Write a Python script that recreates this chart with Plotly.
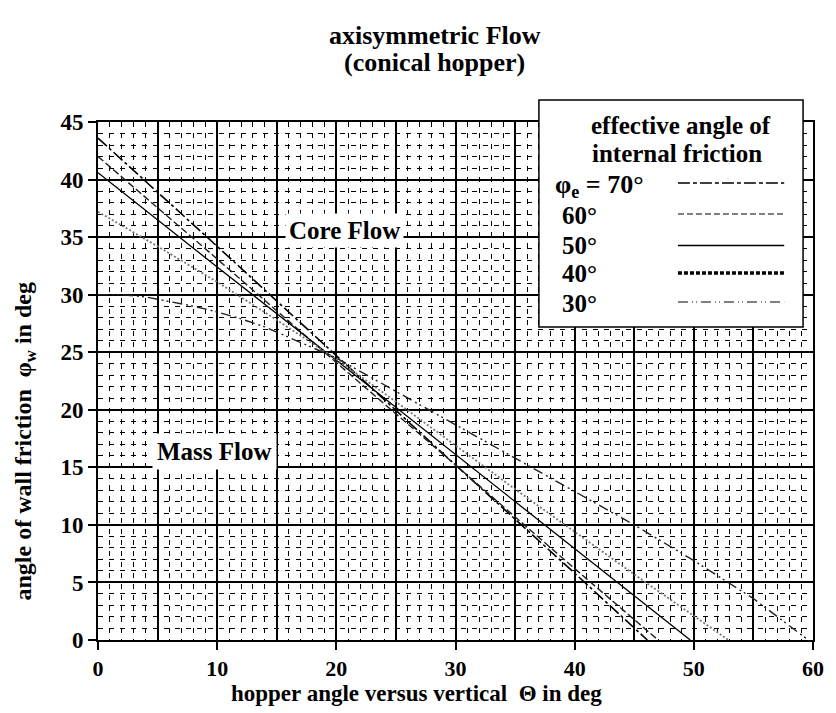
import plotly.graph_objects as go

# ---- data ----
theta_70 = [0, 10, 20, 30, 40, 46.1]
phi_70 = [43.6, 34.2, 24.7, 15.2, 5.8, 0]
theta_60 = [0, 10, 20, 30, 40, 47.0]
phi_60 = [42.0, 33.1, 24.1, 15.2, 6.2, 0]
theta_50 = [0, 10, 20, 30, 40, 49.7]
phi_50 = [40.6, 32.4, 24.3, 16.1, 7.9, 0]
theta_40 = [0, 5, 10, 15, 20, 25, 30, 35, 40, 45, 52.9]
phi_40 = [37.2, 34.2, 31.1, 27.8, 24.4, 20.7, 16.9, 13.1, 9.4, 5.7, 0]
theta_30 = [0, 2, 4, 6, 8, 10, 12, 14, 16, 18, 20, 25, 30, 35, 40, 45, 50, 55, 59.6]
phi_30 = [30, 30, 29.8, 29.4, 29, 28.5, 27.9, 27.2, 26.3, 25.4, 24.5, 21.6, 18.7,
          15.8, 12.9, 10, 6.9, 3.6, 0]

legend_labels = ["φ<sub>e</sub> = 70°", "60°", "50°", "40°", "30°"]
x_ticks = [0, 10, 20, 30, 40, 50, 60]
y_ticks = [0, 5, 10, 15, 20, 25, 30, 35, 40, 45]

FONT = "Liberation Serif"

plot_styles = [
    (theta_70, phi_70, dict(color="black", width=1.6, dash="12px,3px,3px,3px")),
    (theta_60, phi_60, dict(color="#222", width=1.4, dash="7px,3px")),
    (theta_50, phi_50, dict(color="black", width=1.3)),
    (theta_40, phi_40, dict(color="#777", width=1.8, dash="2px,2px")),
    (theta_30, phi_30, dict(color="#222", width=1.4, dash="10px,4px,2px,3px,2px,4px")),
]

fig = go.Figure()
for xs, ys, ln in plot_styles:
    fig.add_trace(go.Scatter(x=xs, y=ys, mode="lines", line=ln, showlegend=False,
                             hoverinfo="skip"))

# invisible trace on secondary x axis so the 5-step grid shows
fig.add_trace(go.Scatter(x=[0, 60], y=[0, 0], xaxis="x2", mode="lines",
                         line=dict(width=0), showlegend=False, hoverinfo="skip"))

minor = dict(dtick=1, showgrid=True, gridcolor="black", gridwidth=1.2,
             griddash="5px,6px", ticks="")

fig.update_layout(
    width=836, height=713,
    margin=dict(l=98, r=18, t=122, b=73),
    plot_bgcolor="white", paper_bgcolor="white",
    showlegend=False,
    font=dict(family=FONT, color="black"),
    xaxis=dict(range=[0, 60], tickvals=x_ticks, ticks="outside", ticklen=8,
               tickwidth=1.5, tickcolor="black",
               showgrid=True, gridcolor="black", gridwidth=1.6,
               showline=True, linecolor="black", linewidth=1.6, mirror=True,
               zeroline=False, minor=minor,
               tickfont=dict(family=FONT, size=22, color="black", weight="bold")),
    xaxis2=dict(range=[0, 60], overlaying="x", side="bottom", tick0=5, dtick=10,
                showticklabels=False, ticks="", showgrid=True,
                gridcolor="black", gridwidth=1.6, showline=False, zeroline=False),
    yaxis=dict(range=[0, 45], tickvals=y_ticks, ticks="outside", ticklen=8,
               tickwidth=1.5, tickcolor="black",
               showgrid=True, gridcolor="black", gridwidth=1.6,
               showline=True, linecolor="black", linewidth=1.6, mirror=True,
               zeroline=False, minor=minor,
               tickfont=dict(family=FONT, size=23, color="black", weight="bold")),
)


def px2p(px, py):
    return (px - 98) / 720.0, (640 - py) / 518.0


def ptext(px, py, text, size, **kw):
    x, y = px2p(px, py)
    args = dict(xref="paper", yref="paper", x=x, y=y, text=text, showarrow=False,
                xanchor="center", yanchor="middle",
                font=dict(family=FONT, size=size, color="black"))
    args.update(kw)
    fig.add_annotation(**args)


# titles
ptext(437, 35, "<b>axisymmetric Flow</b>", 26)
ptext(437, 63, "<b>(conical hopper)</b>", 26)
ptext(419, 693, "<b>hopper angle versus vertical  Θ in deg</b>", 23)
ptext(24, 442, "<b>angle of wall friction  φ<sub>w</sub> in deg</b>", 24, textangle=-90)

# region labels
fig.add_annotation(x=20.7, y=35.6, text="<b>Core Flow</b>", showarrow=False,
                   font=dict(family=FONT, size=25, color="black"),
                   bgcolor="white", borderpad=3)
fig.add_annotation(x=9.8, y=16.4, text="<b>Mass Flow</b>", showarrow=False,
                   font=dict(family=FONT, size=25, color="black"),
                   bgcolor="white", borderpad=4)

# ---- custom legend box (paper coordinates) ----
bx0, by0 = px2p(542, 327)
bx1, by1 = px2p(808, 100)
fig.add_shape(type="rect", xref="paper", yref="paper", x0=bx0, y0=by0, x1=bx1, y1=by1,
              fillcolor="white", line=dict(color="black", width=1.5), layer="above")

ptext(685, 125, "<b>effective angle of</b>", 25)
ptext(681, 153, "<b>internal friction</b>", 25)

legend_styles = [
    dict(color="black", width=1.6, dash="12px,3px,4px,3px"),
    dict(color="black", width=1.2, dash="6px,3px"),
    dict(color="black", width=1.3),
    dict(color="black", width=3.5, dash="4px,2px"),
    dict(color="black", width=1.2, dash="10px,4px,1px,3px,1px,4px"),
]
sample_y = [183, 214, 245.5, 273, 302]
text_y = [186, 215, 245, 273, 303]
text_x = [556, 563, 563, 563, 563]
for lab, ls, sy, tyy, txx in zip(legend_labels, legend_styles, sample_y, text_y, text_x):
    x0, y0 = px2p(682, sy)
    x1, _ = px2p(789, sy)
    fig.add_shape(type="line", xref="paper", yref="paper", x0=x0, y0=y0, x1=x1, y1=y0,
                  line=ls, layer="above")
    ptext(txx, tyy, "<b>" + lab + "</b>", 26 if txx == 556 else 25, xanchor="left")

fig.write_html("out.html")
